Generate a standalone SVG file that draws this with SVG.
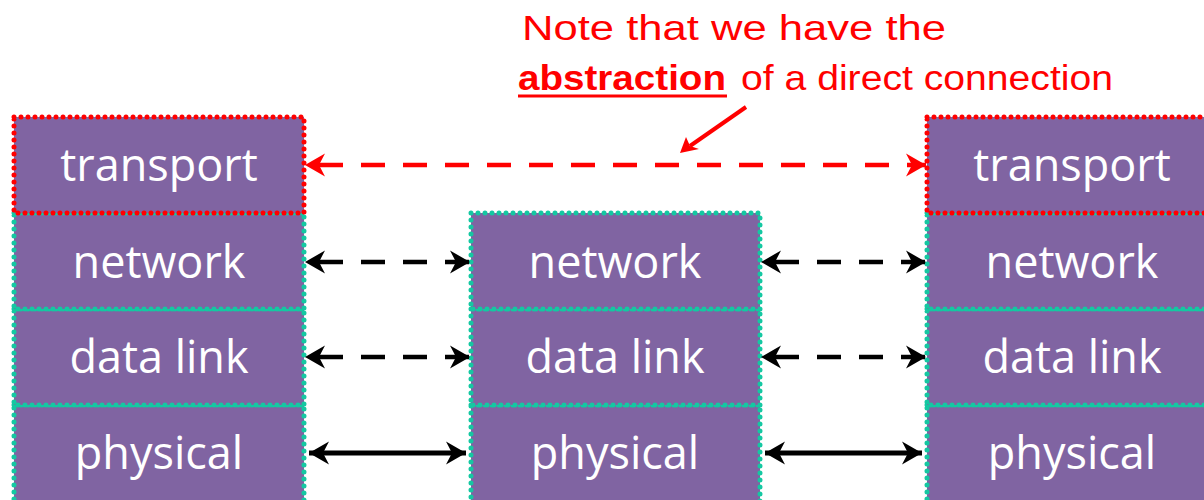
<svg xmlns="http://www.w3.org/2000/svg" width="1204" height="500" viewBox="0 0 1204 500">
<style>
.box{fill:#8064A2;stroke-width:5;stroke-linecap:round;stroke-dasharray:0 7}
.red{stroke:#FF0000}
.teal{stroke:#14C8A2}
.lbl{font-family:"Open Sans","Liberation Sans",sans-serif;font-size:45px;fill:#FFFFFF;text-anchor:middle}
.note{font-family:"Liberation Sans",sans-serif;font-size:35px;fill:#FF0000}
.dash{fill:none;stroke-width:4.5;stroke-dasharray:24 18}
</style>
<defs>
<marker id="ah-red" markerUnits="userSpaceOnUse" markerWidth="26" markerHeight="28" viewBox="-23 -14 26 28" refX="0" refY="0" orient="auto-start-reverse">
<path d="M0,0 L-20,-11.5 L-14,0 L-20,11.5 Z" fill="#FF0000"/>
</marker>
<marker id="ah-blk" markerUnits="userSpaceOnUse" markerWidth="26" markerHeight="28" viewBox="-23 -14 26 28" refX="0" refY="0" orient="auto-start-reverse">
<path d="M0,0 L-20,-11.5 L-14,0 L-20,11.5 Z" fill="#000000"/>
</marker>
</defs>

<g id="left-stack">
<g id="left-physical"><rect class="box teal" x="14" y="405" width="290" height="100"/><text class="lbl" x="159" y="469">physical</text></g>
<g id="left-datalink"><rect class="box teal" x="14" y="309" width="290" height="96"/><text class="lbl" x="159" y="373">data link</text></g>
<g id="left-network"><rect class="box teal" x="14" y="213" width="290" height="96"/><text class="lbl" x="159" y="278">network</text></g>
<g id="left-transport"><rect class="box red" x="14" y="117" width="290" height="96"/><text class="lbl" x="159" y="181">transport</text></g>
</g>

<g id="middle-stack">
<g id="mid-physical"><rect class="box teal" x="471" y="405" width="289" height="100"/><text class="lbl" x="615" y="469">physical</text></g>
<g id="mid-datalink"><rect class="box teal" x="471" y="309" width="289" height="96"/><text class="lbl" x="615" y="373">data link</text></g>
<g id="mid-network"><rect class="box teal" x="471" y="213" width="289" height="96"/><text class="lbl" x="615" y="278">network</text></g>
</g>

<g id="right-stack">
<g id="right-physical"><rect class="box teal" x="927" y="405" width="290" height="100"/><text class="lbl" x="1072" y="469">physical</text></g>
<g id="right-datalink"><rect class="box teal" x="927" y="309" width="290" height="96"/><text class="lbl" x="1072" y="373">data link</text></g>
<g id="right-network"><rect class="box teal" x="927" y="213" width="290" height="96"/><text class="lbl" x="1072" y="278">network</text></g>
<g id="right-transport"><rect class="box red" x="927" y="117" width="290" height="96"/><text class="lbl" x="1072" y="181">transport</text></g>
</g>

<g id="connectors">
<line class="dash" stroke="#FF0000" x1="305" y1="165" x2="926" y2="165" marker-start="url(#ah-red)" marker-end="url(#ah-red)" stroke-dashoffset="-14"/>
<line class="dash" stroke="#000000" x1="305" y1="262" x2="470" y2="262" marker-start="url(#ah-blk)" marker-end="url(#ah-blk)" stroke-dashoffset="-14"/>
<line class="dash" stroke="#000000" x1="761" y1="262" x2="926" y2="262" marker-start="url(#ah-blk)" marker-end="url(#ah-blk)" stroke-dashoffset="-14"/>
<line class="dash" stroke="#000000" x1="305" y1="357" x2="470" y2="357" marker-start="url(#ah-blk)" marker-end="url(#ah-blk)" stroke-dashoffset="-14"/>
<line class="dash" stroke="#000000" x1="761" y1="357" x2="926" y2="357" marker-start="url(#ah-blk)" marker-end="url(#ah-blk)" stroke-dashoffset="-14"/>
<line stroke="#000000" stroke-width="5" x1="309" y1="453" x2="466" y2="453" marker-start="url(#ah-blk)" marker-end="url(#ah-blk)"/>
<line stroke="#000000" stroke-width="5" x1="765" y1="453" x2="922" y2="453" marker-start="url(#ah-blk)" marker-end="url(#ah-blk)"/>
</g>

<g id="annotation">
<text class="note" x="522" y="40" textLength="424" lengthAdjust="spacingAndGlyphs">Note that we have the</text>
<text class="note" x="518" y="90" font-weight="bold" textLength="208" lengthAdjust="spacingAndGlyphs">abstraction</text>
<line x1="518" y1="96" x2="727" y2="96" stroke="#FF0000" stroke-width="3"/>
<text class="note" x="741" y="90" textLength="372" lengthAdjust="spacingAndGlyphs">of a direct connection</text>
<line x1="746" y1="107" x2="690" y2="146" stroke="#FF0000" stroke-width="4"/>
<path d="M680,153 L686,137 L690,146 L699,149 Z" fill="#FF0000"/>
</g>
</svg>
